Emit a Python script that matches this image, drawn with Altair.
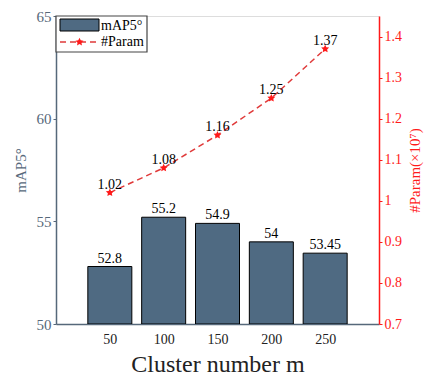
import altair as alt
import pandas as pd

clusters = [50, 100, 150, 200, 250]
map5 = [52.8, 55.2, 54.9, 54.0, 53.45]
map5_labels = ["52.8", "55.2", "54.9", "54", "53.45"]
params = [1.02, 1.08, 1.16, 1.25, 1.37]
param_labels = ["1.02", "1.08", "1.16", "1.25", "1.37"]

df = pd.DataFrame({"m": clusters, "map": map5, "maplab": map5_labels,
                   "param": params, "plab": param_labels})

FONT = "Liberation Serif"
BAR = "#4f6a82"
AXC = "#56687a"
RED = "#ff1a1a"
STAR = "M0,-1L0.29,-0.4L0.95,-0.31L0.47,0.15L0.59,0.81L0,0.5L-0.59,0.81L-0.47,0.15L-0.95,-0.31L-0.29,-0.4Z"

x = alt.X("m:Q", scale=alt.Scale(domain=[0, 300], padding=0, nice=False),
          axis=alt.Axis(values=clusters, title="Cluster number m", grid=False,
                        ticks=False, labelFont=FONT, labelFontSize=14, labelColor="#222",
                        labelPadding=8, titleFont=FONT, titleFontSize=24,
                        titleFontWeight="normal", titleColor="#222", titlePadding=6,
                        domainColor=AXC, domainWidth=1.5))

yl = alt.Y("map:Q", scale=alt.Scale(domain=[50, 65], zero=False, padding=0, nice=False),
           axis=alt.Axis(values=[50, 55, 60, 65], title="mAP5°", grid=False,
                         orient="left", tickSize=3, tickColor=AXC, domainColor=AXC,
                         domainWidth=1.5, labelFont=FONT, labelFontSize=15, labelColor=AXC,
                         titleFont=FONT, titleFontSize=15, titleFontWeight="normal",
                         titleColor=AXC, titlePadding=8))

bars = alt.Chart(df).mark_bar(size=44, color=BAR, stroke="black", strokeWidth=1, clip=True).encode(
    x=x, y=yl, y2=alt.datum(50))
bar_text = alt.Chart(df).mark_text(font=FONT, fontSize=14, color="black", baseline="bottom", dy=-1).encode(
    x="m:Q", y="map:Q", text="maplab:N")

yr = alt.Y("param:Q", scale=alt.Scale(domain=[0.7, 1.45], zero=False, padding=0, nice=False),
           axis=alt.Axis(values=[0.7, 0.8, 0.9, 1.0, 1.1, 1.2, 1.3, 1.4], format="~g",
                         title="#Param(×10⁷)", grid=False, orient="right", tickSize=3,
                         tickColor=RED, domainColor=RED, domainWidth=1.5, labelFont=FONT,
                         labelFontSize=14, labelColor=RED, titleFont=FONT, titleFontSize=15,
                         titleFontWeight="normal", titleColor=RED, titleAngle=270,
                         titleBaseline="top", titlePadding=6))

line = alt.Chart(df).mark_line(color="#e03a3a", strokeDash=[6, 4], strokeWidth=1.5).encode(x="m:Q", y=yr)
pts = alt.Chart(df).mark_point(shape=STAR, size=70, filled=True, color=RED, opacity=1).encode(x="m:Q", y="param:Q")
ptext = alt.Chart(df).mark_text(font=FONT, fontSize=14, color="black", baseline="bottom", dy=-1).encode(
    x="m:Q", y="param:Q", text="plab:N")

right = alt.layer(line, pts, ptext)

# manual legend
ld = pd.DataFrame({"k": [0]})
lg_box = alt.Chart(ld).mark_rect(fill="white", stroke="#444", strokeWidth=1.2).encode(
    x=alt.value(0), x2=alt.value(91), y=alt.value(0), y2=alt.value(36))
lg_bar = alt.Chart(ld).mark_rect(fill=BAR, stroke="black", strokeWidth=1).encode(
    x=alt.value(4), x2=alt.value(43), y=alt.value(3), y2=alt.value(15))
lg_line = alt.Chart(ld).mark_rule(color="#e03a3a", strokeDash=[6, 4], strokeWidth=1.5).encode(
    x=alt.value(4), x2=alt.value(43), y=alt.value(26))
lg_pt = alt.Chart(ld).mark_point(shape=STAR, size=70, filled=True, color=RED, opacity=1).encode(
    x=alt.value(23.5), y=alt.value(26))
lg_t1 = alt.Chart(ld).mark_text(font=FONT, fontSize=14, color="black", align="left", baseline="middle").encode(
    x=alt.value(45), y=alt.value(10), text=alt.value("mAP5°"))
lg_t2 = alt.Chart(ld).mark_text(font=FONT, fontSize=14, color="black", align="left", baseline="middle").encode(
    x=alt.value(45), y=alt.value(26), text=alt.value("#Param"))
legend = alt.layer(lg_box, lg_bar, lg_line, lg_pt, lg_t1, lg_t2)

left = alt.layer(bars, bar_text)

chart = alt.layer(left, right, legend).resolve_scale(y="independent").properties(
    width=323, height=308,
    autosize=alt.AutoSizeParams(type="none"),
    padding={"left": 48, "top": 8, "right": 45, "bottom": 56},
).configure_view(stroke=None).configure(font=FONT)

chart.save("out.html", embed_options={"renderer": "svg", "actions": False})
